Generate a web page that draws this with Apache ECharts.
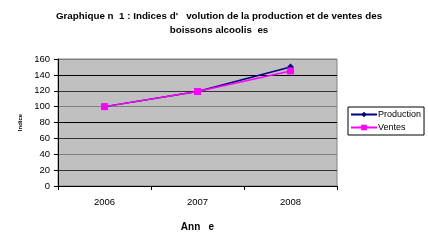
<!DOCTYPE html>
<html><head><meta charset="utf-8">
<script src="https://cdn.jsdelivr.net/npm/echarts@6/dist/echarts.min.js"></script>
<style>html,body{margin:0;padding:0;background:#fff}#c{width:428px;height:243px}</style>
</head><body><div id="c"></div>
<script>
const categories = ['2006', '2007', '2008'];
const production = [100, 119, 150];
const ventes = [100, 119, 145];
const yTicks = [0, 20, 40, 60, 80, 100, 120, 140, 160];
const titleLines = ["Graphique n  1 : Indices d'   volution de la production et de ventes des", "boissons alcoolis  es"];
const seriesNames = ['Production', 'Ventes'];

const chart = echarts.init(document.getElementById('c'), null, {renderer: 'canvas'});
const font = 'Liberation Sans, Arial, sans-serif';
chart.setOption({
  animation: false,
  backgroundColor: '#fff',
  title: {
    text: titleLines.join('\n'),
    left: 214, top: 4, textAlign: 'center',
    textStyle: {fontFamily: font, fontSize: 9.8, fontWeight: 'bold', color: '#000', lineHeight: 14}
  },
  legend: {
    orient: 'vertical', left: 348, top: 107,
    data: seriesNames,
    backgroundColor: '#fff', borderColor: '#000', borderWidth: 1,
    padding: [3, 3, 3, 2], itemGap: 4, itemWidth: 26, itemHeight: 7,
    textStyle: {fontFamily: font, fontSize: 9, color: '#000', padding: [0, 0, 0, -4]}
  },
  grid: {left: 58, right: 91, top: 59, bottom: 57, show: true, backgroundColor: '#c0c0c0', borderColor: '#808080', borderWidth: 1},
  xAxis: {
    type: 'category', data: categories, boundaryGap: true,
    name: 'Ann   e', nameLocation: 'middle', nameGap: 36,
    nameTextStyle: {fontFamily: font, fontSize: 10, fontWeight: 'bold', color: '#000'},
    axisLine: {lineStyle: {color: '#000', width: 1}},
    axisTick: {show: true, length: 4, lineStyle: {color: '#000'}},
    axisLabel: {fontFamily: font, fontSize: 9.5, color: '#000', margin: 11}
  },
  yAxis: {
    type: 'value', min: 0, max: 160, interval: 20,
    name: 'Indice', nameLocation: 'middle', nameGap: 28, nameRotate: 90,
    nameTextStyle: {fontFamily: font, fontSize: 6, fontWeight: 'bold', color: '#000'},
    axisLine: {show: true, lineStyle: {color: '#000', width: 1}},
    axisTick: {show: true, length: 4, lineStyle: {color: '#000'}},
    axisLabel: {fontFamily: font, fontSize: 9.5, color: '#000', margin: 8},
    splitLine: {show: true, lineStyle: {color: ['#000', '#333', '#808080', '#333', '#000', '#808080', '#333', '#000', '#808080'], width: 1}}
  },
  series: [
    {name: seriesNames[0], type: 'line', data: production, symbol: 'diamond', symbolSize: 7,
     itemStyle: {color: '#000080'}, lineStyle: {color: '#000080', width: 1.5}, z: 2},
    {name: seriesNames[1], type: 'line', data: ventes, symbol: 'rect', symbolSize: 7,
     itemStyle: {color: '#ff00ff'}, lineStyle: {color: '#ff00ff', width: 1.5}, z: 3}
  ]
});
</script></body></html>
